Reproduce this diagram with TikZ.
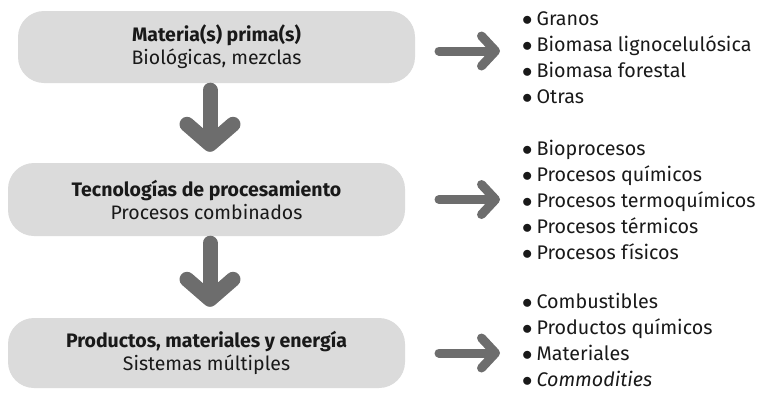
\documentclass[tikz,border=0pt]{standalone}
\usepackage{fontspec}
\setmainfont{Fira Sans}
\usetikzlibrary{arrows.meta}
\usetikzlibrary{positioning}
\definecolor{boxgray}{RGB}{219,219,219}
\definecolor{arrowgray}{RGB}{109,109,109}
\definecolor{inkblack}{RGB}{25,25,25}
\newcommand{\listdot}{$\bullet$\kern4pt}

\tikzset{
  stage/.style={fill=boxgray, rounded corners=26pt, minimum width=397pt,
    minimum height=72pt, align=center, text=inkblack,
    font=\fontsize{19.5}{23}\selectfont},
  itemlist/.style={anchor=north west, align=left, inner sep=0pt, text=inkblack,
    font=\fontsize{19.7}{26}\selectfont},
  downarrow/.style={draw=arrowgray, line width=15pt, line cap=round,
    -{Straight Barb[round, length=20pt, width=46pt]}},
  sidearrow/.style={draw=arrowgray, line width=9pt, line cap=round,
    -{Straight Barb[round, length=14pt, width=30pt]}}
}

\begin{document}
\begin{tikzpicture}[x=1pt, y=-1pt]
  \useasboundingbox (0,0) rectangle (759,394);

  % etapas
  \node[stage] (materia) at (216.5,47) {\textbf{Materia(s) prima(s)}\\Biológicas, mezclas};
  \node[stage, minimum height=73pt] (tecno) at (206.5,199.5) {\textbf{Tecnologías de procesamiento}\\Procesos combinados};
  \node[stage, minimum height=70pt] (prod) at (206.5,353) {\textbf{Productos, materiales y energía}\\Sistemas múltiples};

  % listas
  \node[itemlist] (lmateria) at (522,11) {\listdot Granos\\\listdot Biomasa lignocelulósica\\\listdot Biomasa forestal\\\listdot Otras};
  \node[itemlist] (ltecno) at (522,140) {\listdot Bioprocesos\\\listdot Procesos químicos\\\listdot Procesos termoquímicos\\\listdot Procesos térmicos\\\listdot Procesos físicos};
  \node[itemlist] (lprod) at (522,293) {\listdot Combustibles\\\listdot Productos químicos\\\listdot Materiales\\\listdot \textit{Commodities}};

  % flechas
  \coordinate (ax) at (210,0);
  \coordinate (rx) at (439,0);
  \coordinate (tx) at (500,0);
  \draw[downarrow] ([yshift=-7pt]materia.south -| ax) -- ([yshift=11pt]tecno.north -| ax);
  \draw[downarrow] ([yshift=-7pt]tecno.south -| ax) -- ([yshift=11pt]prod.north -| ax);
  \draw[sidearrow] ([yshift=-4pt]materia.east -| rx) -- ([yshift=-4pt]materia.east -| tx);
  \draw[sidearrow] (tecno.east -| rx) -- (tecno.east -| tx);
  \draw[sidearrow] (prod.east -| rx) -- (prod.east -| tx);
\end{tikzpicture}
\end{document}
